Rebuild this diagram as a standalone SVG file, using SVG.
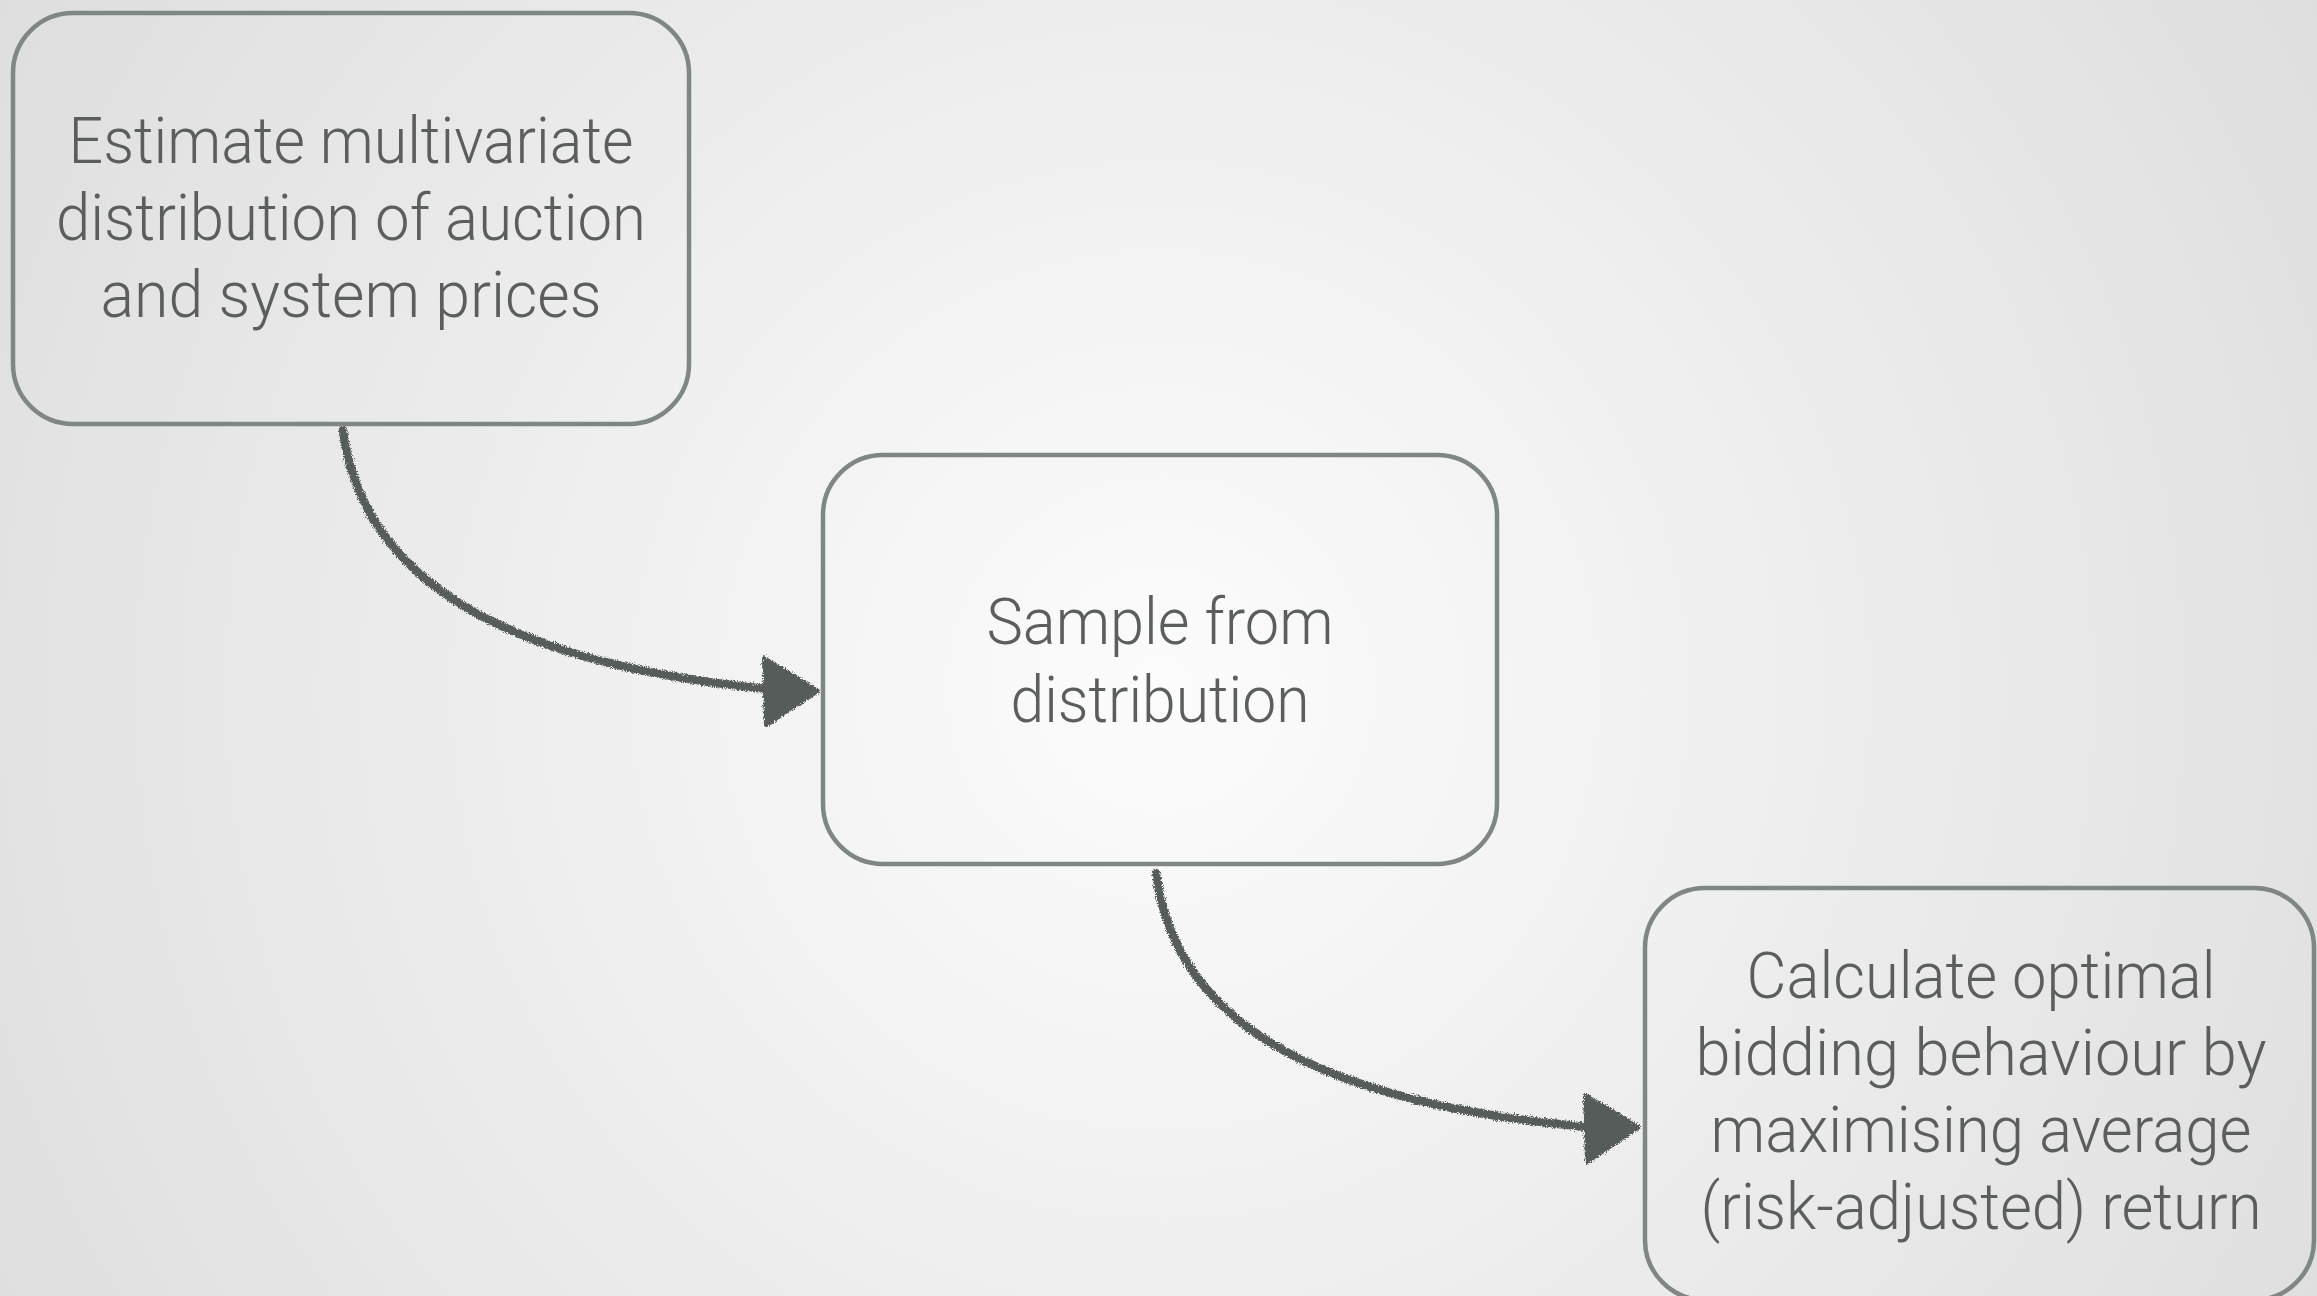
<svg xmlns="http://www.w3.org/2000/svg" width="2317" height="1296" viewBox="0 0 2317 1296">
  <defs>
    <radialGradient id="bg" gradientUnits="userSpaceOnUse" cx="1160" cy="690" r="1350">
      <stop offset="0" stop-color="#fcfcfc"/>
      <stop offset="1" stop-color="#dedede"/>
    </radialGradient>
    <filter id="chalk" x="-10%" y="-10%" width="120%" height="120%">
      <feTurbulence type="fractalNoise" baseFrequency="1.1" numOctaves="2" seed="3" result="n"/>
      <feDisplacementMap in="SourceGraphic" in2="n" scale="6" xChannelSelector="R" yChannelSelector="G"/>
    </filter>
    <style>
      .box { fill: none; stroke: #7f8784; stroke-width: 4.5; }
      .lbl { font-family: Roboto, "Liberation Sans", Arial, sans-serif; font-weight: 300; font-size: 64px; fill: #5a5e5d; text-anchor: middle; }
      .wire { fill: none; stroke: #575c5a; stroke-width: 8.5; stroke-linecap: round; }
      .head { fill: #575c5a; stroke: #575c5a; stroke-width: 4; stroke-linejoin: round; }
    </style>
  </defs>
  <rect x="0" y="0" width="2317" height="1296" fill="url(#bg)"/>

  <g id="connectors" filter="url(#chalk)">
    <g id="c1">
      <path class="wire" d="M343,430 C360,560 470,660 768,689"/>
      <polygon class="head" points="764,658 818,691 766,725"/>
    </g>
    <g id="c2">
      <path class="wire" d="M1156,873 C1173,1003 1283,1100 1588,1127"/>
      <polygon class="head" points="1585,1095 1639,1127 1587,1162"/>
    </g>
  </g>

  <g id="node1">
    <rect class="box" x="13" y="13" width="676" height="411" rx="60" ry="60"/>
    <text class="lbl" x="351" y="163" textLength="565" lengthAdjust="spacingAndGlyphs">Estimate multivariate</text>
    <text class="lbl" x="351" y="240" textLength="590" lengthAdjust="spacingAndGlyphs">distribution of auction</text>
    <text class="lbl" x="351" y="317" textLength="501" lengthAdjust="spacingAndGlyphs">and system prices</text>
  </g>

  <g id="node2">
    <rect class="box" x="823" y="455" width="674" height="409" rx="60" ry="60"/>
    <text class="lbl" x="1160" y="644" textLength="347" lengthAdjust="spacingAndGlyphs">Sample from</text>
    <text class="lbl" x="1160" y="722" textLength="299" lengthAdjust="spacingAndGlyphs">distribution</text>
  </g>

  <g id="node3">
    <rect class="box" x="1645" y="888" width="669" height="412" rx="60" ry="60"/>
    <text class="lbl" x="1981" y="998" textLength="469" lengthAdjust="spacingAndGlyphs">Calculate optimal</text>
    <text class="lbl" x="1981" y="1075" textLength="571" lengthAdjust="spacingAndGlyphs">bidding behaviour by</text>
    <text class="lbl" x="1981" y="1152" textLength="541" lengthAdjust="spacingAndGlyphs">maximising average</text>
    <text class="lbl" x="1981" y="1229" textLength="561" lengthAdjust="spacingAndGlyphs">(risk-adjusted) return</text>
  </g>
</svg>
